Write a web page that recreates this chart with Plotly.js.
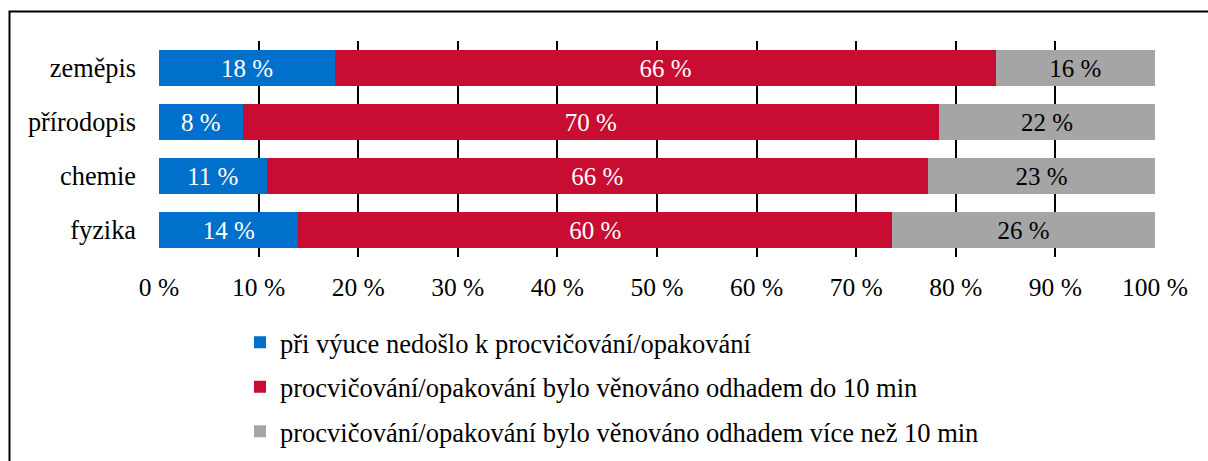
<!DOCTYPE html>
<html>
<head>
<meta charset="utf-8">
<script src="https://cdn.plot.ly/plotly-3.0.1.min.js"></script>
<style>
html,body{margin:0;padding:0;background:#fff;}
#chart{width:1208px;height:461px;}
</style>
</head>
<body>
<div id="chart"></div>
<script>
var categories = ["fyzika", "chemie", "přírodopis", "zeměpis"];
var seriesNames = [
  "při výuce nedošlo k procvičování/opakování",
  "procvičování/opakování bylo věnováno odhadem do 10 min",
  "procvičování/opakování bylo věnováno odhadem více než 10 min"
];
var noPractice = [14.0, 10.8, 8.4, 17.7];
var upTo10 = [59.6, 66.4, 69.9, 66.3];
var over10 = [26.4, 22.8, 21.7, 16.0];
var tickVals = [0, 10, 20, 30, 40, 50, 60, 70, 80, 90, 100];
var tickText = ["0 %", "10 %", "20 %", "30 %", "40 %", "50 %", "60 %", "70 %", "80 %", "90 %", "100 %"];

var colors = ["#0070CD", "#C80C32", "#A5A5A5"];
var textColors = ["#FFFFFF", "#FFFFFF", "#000000"];
var FONT = "Liberation Serif";
var values = [noPractice, upTo10, over10];

var traces = values.map(function (v, i) {
  return {
    type: "bar",
    orientation: "h",
    y: categories,
    x: v,
    name: seriesNames[i],
    legendgroup: "g" + i,
    marker: {color: colors[i], line: {width: 0}},
    texttemplate: "%{x:.0f} %",
    textposition: "inside",
    insidetextanchor: "middle",
    constraintext: "none",
    textfont: {family: FONT, size: 25, color: textColors[i]},
    hoverinfo: "x+y+name"
  };
});

var layout = {
  width: 1208,
  height: 461,
  barmode: "stack",
  bargap: 0.333,
  margin: {l: 159, r: 53, t: 41, b: 204, pad: 0, autoexpand: false},
  paper_bgcolor: "#FFFFFF",
  plot_bgcolor: "#FFFFFF",
  font: {family: FONT, size: 25, color: "#000000"},
  showlegend: true,
  legend: {
    orientation: "v",
    x: (240 - 159) / 996,
    xanchor: "left",
    y: -0.285,
    yanchor: "top",
    traceorder: "grouped",
    tracegroupgap: 7,
    font: {family: FONT, size: 26.5, color: "#000000"},
    bgcolor: "rgba(0,0,0,0)"
  },
  xaxis: {
    range: [0, 100],
    tickmode: "array",
    tickvals: tickVals,
    ticktext: tickText,
    showgrid: true,
    gridcolor: "#000000",
    gridwidth: 2,
    zeroline: false,
    showline: false,
    ticks: "",
    ticklabelstandoff: 12,
    tickfont: {family: FONT, size: 25.5, color: "#000000"},
    fixedrange: true
  },
  yaxis: {
    type: "category",
    categoryorder: "array",
    categoryarray: categories,
    showgrid: false,
    zeroline: false,
    showline: false,
    ticks: "",
    ticklabelstandoff: 22,
    tickfont: {family: FONT, size: 26.3, color: "#000000"},
    fixedrange: true
  },
  shapes: [{
    type: "rect",
    xref: "paper", yref: "paper",
    x0: (9.5 - 159) / 996, x1: (1220 - 159) / 996,
    y0: (257 - 480) / 216, y1: (257 - 11.5) / 216,
    line: {color: "#000000", width: 2},
    fillcolor: "rgba(0,0,0,0)",
    layer: "above"
  }]
};

Plotly.newPlot("chart", traces, layout, {displayModeBar: false, staticPlot: true});
</script>
</body>
</html>
